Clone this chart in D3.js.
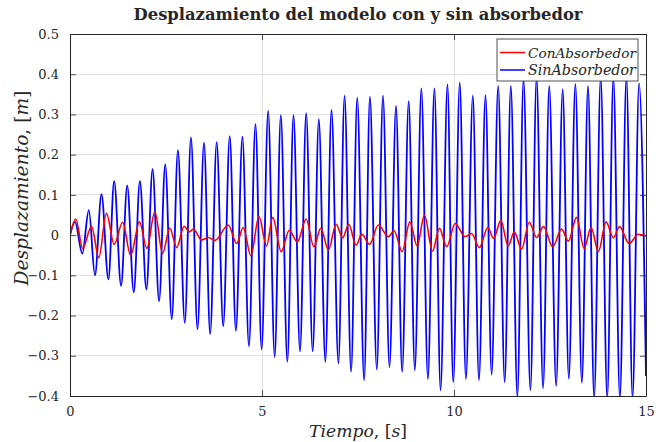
<!DOCTYPE html>
<html>
<head>
<meta charset="utf-8">
<script src="https://cdn.jsdelivr.net/npm/d3@7"></script>
<style>
  body { margin: 0; background: #fff; }
  svg text { font-family: "DejaVu Serif", serif; fill: #262626; }
</style>
</head>
<body>
<div id="chart"></div>
<script>
// extrema: time [s] and displacement [m]
const sinT = [0, 0.13, 0.32, 0.49, 0.65, 0.82, 1.00, 1.15, 1.33, 1.49, 1.66, 1.82, 1.99, 2.15, 2.32, 2.48,
  2.65, 2.81, 2.99, 3.15, 3.32, 3.49, 3.65, 3.82, 3.99, 4.16, 4.32, 4.49, 4.66, 4.83, 4.99, 5.16,
  5.33, 5.49, 5.66, 5.82, 5.99, 6.15, 6.32, 6.48, 6.65, 6.81, 6.99, 7.15, 7.32, 7.48, 7.66, 7.81,
  7.99, 8.15, 8.32, 8.49, 8.65, 8.82, 8.98, 9.15, 9.32, 9.49, 9.65, 9.83, 9.98, 10.15, 10.31, 10.49,
  10.65, 10.82, 10.98, 11.15, 11.32, 11.48, 11.65, 11.81, 11.99, 12.15, 12.32, 12.48, 12.66, 12.83,
  12.99, 13.16, 13.33, 13.49, 13.65, 13.82, 13.99, 14.15, 14.32, 14.49, 14.65, 14.82, 15.0];
const sinV = [0, 0.033, -0.046, 0.062, -0.10, 0.102, -0.11, 0.134, -0.126, 0.123, -0.142, 0.134, -0.135, 0.164, -0.164, 0.176,
  -0.209, 0.211, -0.218, 0.243, -0.234, 0.230, -0.246, 0.231, -0.226, 0.246, -0.238, 0.245, -0.276, 0.276, -0.284, 0.309,
  -0.303, 0.298, -0.315, 0.298, -0.289, 0.303, -0.289, 0.288, -0.315, 0.311, -0.319, 0.347, -0.340, 0.342, -0.361, 0.344,
  -0.334, 0.347, -0.328, 0.321, -0.340, 0.333, -0.336, 0.365, -0.358, 0.365, -0.386, 0.375, -0.366, 0.379, -0.358, 0.347,
  -0.361, 0.348, -0.347, 0.371, -0.366, 0.371, -0.402, 0.388, -0.386, 0.392, -0.381, 0.371, -0.375, 0.363,
  -0.357, 0.376, -0.367, 0.371, -0.405, 0.392, -0.405, 0.392, -0.405, 0.392, -0.405, 0.377, -0.35];

const conT = [0, 0.15, 0.33, 0.56, 0.75, 0.95, 1.15, 1.37, 1.58, 1.81, 2.00, 2.21, 2.41, 2.60, 2.78, 2.97, 3.11, 3.21, 3.43, 3.60,
  3.78, 4.12, 4.34, 4.51, 4.71, 4.92, 5.12, 5.28, 5.50, 5.71, 5.92, 6.15, 6.35, 6.53, 6.73, 6.93, 7.10, 7.26, 7.45, 7.60,
  7.80, 8.03, 8.29, 8.44, 8.65, 8.85, 9.04, 9.23, 9.44, 9.62, 9.81, 10.03, 10.29, 10.46, 10.66, 10.88, 11.03, 11.22, 11.41, 11.57,
  11.76, 11.96, 12.15, 12.33, 12.57, 12.80, 12.98, 13.19, 13.39, 13.57, 13.76, 13.96, 14.15, 14.31, 14.56, 14.80, 15.0];
const conV = [0, 0.040, -0.033, 0.022, -0.056, 0.054, -0.023, 0.032, -0.051, 0.033, -0.033, 0.058, -0.046, 0.017, -0.031, 0.022, 0.008, 0.015, -0.012, -0.006,
  -0.013, 0.025, -0.021, 0.019, -0.051, 0.046, -0.027, 0.044, -0.041, 0.012, -0.017, 0.040, -0.029, 0.017, -0.037, 0.027, -0.007, 0.027, -0.025, 0.002,
  -0.023, 0.025, -0.004, 0.011, -0.041, 0.033, -0.027, 0.050, -0.040, 0.017, -0.029, 0.029, -0.004, 0.004, -0.031, 0.019, -0.008, 0.036, -0.027, 0.008,
  -0.035, 0.032, -0.006, 0.021, -0.029, 0.015, -0.015, 0.044, -0.033, 0.019, -0.041, 0.033, -0.007, 0.021, -0.021, 0.002, -0.002];

const xTicks = [0, 5, 10, 15];
const yTicks = [-0.4, -0.3, -0.2, -0.1, 0, 0.1, 0.2, 0.3, 0.4, 0.5];
const seriesNames = ["ConAbsorbedor", "SinAbsorbedor"];
const seriesColors = ["#ff0000", "#0000ff"];
const titleText = "Desplazamiento del modelo con y sin absorbedor";

const width = 668, height = 442;
const margin = { top: 34, right: 22, bottom: 46, left: 70 };
const innerW = width - margin.left - margin.right;
const innerH = height - margin.top - margin.bottom;
const axisColor = "#262626";

const svg = d3.select("#chart").append("svg")
  .attr("width", width).attr("height", height)
  .style("background", "#fff");

const x = d3.scaleLinear().domain([0, 15]).range([0, innerW]);
const y = d3.scaleLinear().domain([-0.4, 0.5]).range([innerH, 0]);

const bounds = svg.append("g").attr("transform", `translate(${margin.left},${margin.top})`);

// grid
bounds.append("g").selectAll("line").data(yTicks).join("line")
  .attr("x1", 0).attr("x2", innerW)
  .attr("y1", d => y(d)).attr("y2", d => y(d))
  .attr("stroke", "#e3e3e3").attr("stroke-width", 1).attr("shape-rendering", "crispEdges");
bounds.append("g").selectAll("line").data(xTicks).join("line")
  .attr("y1", 0).attr("y2", innerH)
  .attr("x1", d => x(d)).attr("x2", d => x(d))
  .attr("stroke", "#e3e3e3").attr("stroke-width", 1).attr("shape-rendering", "crispEdges");

// lines
bounds.append("clipPath").attr("id", "clip")
  .append("rect").attr("width", innerW).attr("height", innerH);

const lineGen = d3.line()
  .x(d => x(d[0]))
  .y(d => y(d[1]))
  .curve(d3.curveMonotoneX);

const series = [
  d3.zip(sinT, sinV),
  d3.zip(conT, conV)
];
const plotG = bounds.append("g").attr("clip-path", "url(#clip)");
plotG.append("path").datum(series[0])
  .attr("d", lineGen).attr("fill", "none")
  .attr("stroke", seriesColors[1]).attr("stroke-width", 1.8);
plotG.append("path").datum(series[1])
  .attr("d", lineGen).attr("fill", "none")
  .attr("stroke", seriesColors[0]).attr("stroke-width", 1.6);

// axes (ticks inward, on all four sides)
const tickLen = 6;
const xAxisB = d3.axisBottom(x).tickValues(xTicks).tickSizeInner(-tickLen).tickSizeOuter(0).tickPadding(tickLen + 5);
const xAxisT = d3.axisTop(x).tickValues(xTicks).tickSizeInner(-tickLen).tickSizeOuter(0).tickFormat("");
const yAxisL = d3.axisLeft(y).tickValues(yTicks).tickSizeInner(-tickLen).tickSizeOuter(0).tickPadding(tickLen + 5)
  .tickFormat(d => d === 0 ? "0" : d3.format(".1f")(d));
const yAxisR = d3.axisRight(y).tickValues(yTicks).tickSizeInner(-tickLen).tickSizeOuter(0).tickFormat("");

const gxb = bounds.append("g").attr("transform", `translate(0,${innerH})`).call(xAxisB);
const gxt = bounds.append("g").call(xAxisT);
const gyl = bounds.append("g").call(yAxisL);
const gyr = bounds.append("g").attr("transform", `translate(${innerW},0)`).call(yAxisR);
[gxb, gxt, gyl, gyr].forEach(g => {
  g.select(".domain").attr("stroke", axisColor).attr("stroke-width", 1);
  g.selectAll(".tick line").attr("stroke", axisColor).attr("stroke-width", 0.8);
  g.selectAll(".tick text").attr("fill", axisColor)
    .style("font-family", "'DejaVu Serif', serif").style("font-size", "13px");
});

// fit a text element to a target width
function fit(sel, target) {
  const w = sel.node().getComputedTextLength();
  const fs = parseFloat(sel.style("font-size"));
  sel.style("font-size", (fs * target / w) + "px");
}

// title
const title = svg.append("text")
  .attr("x", margin.left + innerW / 2).attr("y", 20)
  .attr("text-anchor", "middle")
  .style("font-weight", "bold").style("font-size", "15px")
  .attr("fill", "#000")
  .text(titleText);
fit(title, 449);

// x label
const xl = svg.append("text")
  .attr("x", margin.left + innerW / 2).attr("y", 437)
  .attr("text-anchor", "middle").style("font-size", "15px");
xl.append("tspan").style("font-style", "italic").text("Tiempo");
xl.append("tspan").text(", [");
xl.append("tspan").style("font-style", "italic").text("s");
xl.append("tspan").text("]");
fit(xl, 98);

// y label
const yl = svg.append("text")
  .attr("transform", `translate(28,${margin.top + innerH / 2 - 27}) rotate(-90)`)
  .attr("text-anchor", "middle").style("font-size", "15px");
yl.append("tspan").style("font-style", "italic").text("Desplazamiento");
yl.append("tspan").text(", [");
yl.append("tspan").style("font-style", "italic").text("m");
yl.append("tspan").text("]");
fit(yl, 195);

// legend
const lg = svg.append("g").attr("transform", "translate(497,39)");
lg.append("rect").attr("width", 141).attr("height", 42)
  .attr("fill", "#fff").attr("stroke", axisColor).attr("stroke-width", 0.8);
seriesNames.forEach((name, i) => {
  const cy = 13.5 + i * 17.5;
  lg.append("line").attr("x1", 3).attr("x2", 28).attr("y1", cy).attr("y2", cy)
    .attr("stroke", seriesColors[i]).attr("stroke-width", 1.5);
  const t = lg.append("text").attr("x", 31).attr("y", cy + 5)
    .style("font-style", "italic").style("font-size", "14px").attr("fill", "#000")
    .text(name);
  fit(t, 108);
});
</script>
</body>
</html>
